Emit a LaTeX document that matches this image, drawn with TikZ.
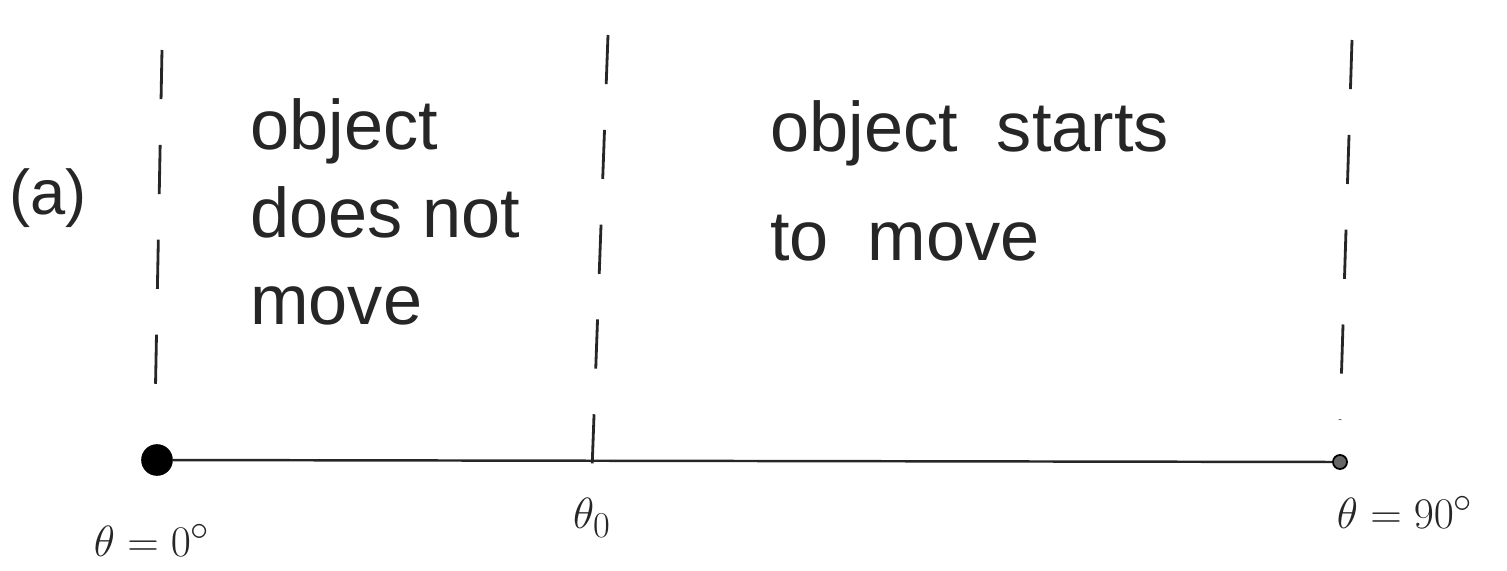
\documentclass[tikz,border=0pt]{standalone}
\usepackage{fontspec}
\setmainfont{Liberation Sans}
\begin{document}
\begin{tikzpicture}[x=0.02cm,y=-0.02cm,
  guide/.style={line width=1.6pt, dash pattern=on 28pt off 26pt, black!85},
  axisline/.style={line width=1.4pt, black!85},
  hand/.style={font=\fontsize{40}{50}\selectfont, align=left, anchor=north west, inner sep=0pt, black!85},
  lbl/.style={font=\fontsize{30}{36}\selectfont, inner sep=0pt, black!85}]
\useasboundingbox (0,0) rectangle (1507,571);
% dashed guides
\coordinate (g1t) at (162,50);  \coordinate (g1b) at (155,412);
\coordinate (g2t) at (608,35);  \coordinate (g2b) at (592,470);
\coordinate (g3t) at (1352,40); \coordinate (g3b) at (1340,420);
\draw[guide] (g1t) -- (g1b);
\draw[guide] (g2t) -- (g2b);
\draw[guide] (g3t) -- (g3b);
% axis
\node[circle, fill=black, inner sep=0pt, minimum size=18pt] (d0) at (157,460) {};
\node[circle, draw=black, fill=black!60, line width=1pt, inner sep=0pt, minimum size=8pt] (d90) at (1340,462) {};
\draw[axisline] (d0) -- (d90);
% texts
\node[lbl, font=\fontsize{36}{44}\selectfont] (a) at (48,198) {(a)};
\node[hand] (t1) at (250,98) {object\\does not\\move};
\node[hand, font=\fontsize{40}{62}\selectfont] (t2) at (770,100) {object\ \ starts\\to\ \ move};
\node[lbl] (l0) at (152,540) {$\theta=0^\circ$};
\node[lbl] (l1) at (592,518) {$\theta_0$};
\node[lbl] (l2) at (1405,512) {$\theta=90^\circ$};
\end{tikzpicture}
\end{document}
